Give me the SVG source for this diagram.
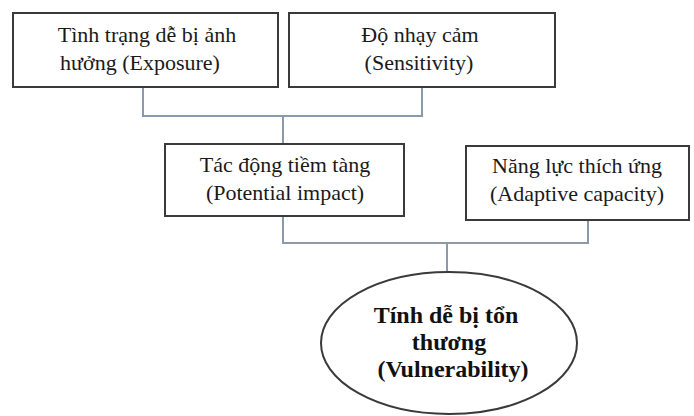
<svg xmlns="http://www.w3.org/2000/svg" width="694" height="416" viewBox="0 0 694 416">
<style>
.box{fill:#fff;stroke:#3a3a3a;stroke-width:2}
.t{font-family:'Liberation Serif','Times New Roman',serif;font-size:22px;fill:#1a1a1a;text-anchor:middle}
.b{font-family:'Liberation Serif','Times New Roman',serif;font-size:24px;font-weight:bold;fill:#111;text-anchor:middle}
.c{fill:none;stroke:#8a9aab;stroke-width:2}
</style>
<rect width="694" height="416" fill="#fff"/>
<g id="connectors">
<path class="c" d="M143 87V116H422V87M283 116V144"/>
<path class="c" d="M283 216V243H588V220M447 243V272"/>
</g>
<g id="exposure">
<rect class="box" x="13" y="13" width="265" height="74"/>
<text class="t" x="147" y="42">Tình trạng dễ bị ảnh</text>
<text class="t" x="140" y="70">hưởng (Exposure)</text>
</g>
<g id="sensitivity">
<rect class="box" x="289" y="13" width="266" height="74"/>
<text class="t" x="420" y="42">Độ nhạy cảm</text>
<text class="t" x="419" y="70">(Sensitivity)</text>
</g>
<g id="potential">
<rect class="box" x="165" y="144" width="239" height="72"/>
<text class="t" x="285" y="172">Tác động tiềm tàng</text>
<text class="t" x="285" y="200">(Potential impact)</text>
</g>
<g id="adaptive">
<rect class="box" x="466" y="146" width="223" height="74"/>
<text class="t" x="577" y="173">Năng lực thích ứng</text>
<text class="t" x="577" y="201">(Adaptive capacity)</text>
</g>
<g id="vulnerability">
<ellipse class="box" cx="449" cy="343" rx="128" ry="71"/>
<text class="b" x="446" y="323">Tính dễ bị tổn</text>
<text class="b" x="449" y="350">thương</text>
<text class="b" x="453" y="377">(Vulnerability)</text>
</g>
</svg>
